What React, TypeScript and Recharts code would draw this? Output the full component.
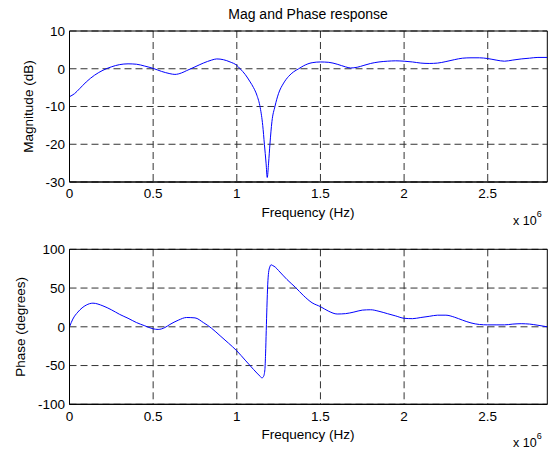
import React from 'react';
import { LineChart, Line, XAxis, YAxis, CartesianGrid, ReferenceArea, Label } from 'recharts';

// Frequency in units of 1e6 Hz
const magFreq = [0, 0.03, 0.06, 0.1, 0.15, 0.2, 0.25, 0.3, 0.35, 0.4, 0.45, 0.5, 0.55, 0.6, 0.63, 0.67, 0.7, 0.75, 0.8, 0.85, 0.88, 0.92, 0.96, 1.0, 1.02, 1.05, 1.08, 1.1, 1.12, 1.14, 1.155, 1.165, 1.175, 1.182, 1.19, 1.198, 1.21, 1.228, 1.25, 1.28, 1.31, 1.34, 1.37, 1.4, 1.45, 1.5, 1.55, 1.6, 1.65, 1.68, 1.72, 1.76, 1.8, 1.85, 1.9, 1.95, 2.0, 2.05, 2.1, 2.15, 2.2, 2.25, 2.3, 2.35, 2.4, 2.45, 2.5, 2.55, 2.6, 2.65, 2.7, 2.75, 2.8, 2.856];
const magDb = [-7.4, -6.6, -5.3, -3.5, -1.7, -0.4, 0.5, 1.1, 1.3, 1.2, 0.7, 0.1, -0.7, -1.3, -1.5, -1.1, -0.5, 0.5, 1.5, 2.3, 2.6, 2.4, 1.8, 0.9, 0.0, -1.5, -3.5, -5.0, -7.0, -10.3, -15, -20, -25, -28.8, -25, -20, -14, -10, -6.5, -3.8, -2.0, -0.8, 0.0, 0.8, 1.6, 1.8, 1.7, 1.2, 0.5, 0.2, 0.4, 0.9, 1.4, 1.8, 2.0, 2.1, 2.0, 1.8, 1.5, 1.4, 1.5, 1.9, 2.4, 2.8, 2.9, 2.9, 2.7, 2.3, 2.0, 2.3, 2.6, 2.8, 3.0, 3.0];

const phFreq = [0, 0.02, 0.05, 0.1, 0.14, 0.2, 0.25, 0.3, 0.35, 0.4, 0.45, 0.5, 0.53, 0.57, 0.6, 0.65, 0.7, 0.75, 0.8, 0.85, 0.9, 0.95, 1.0, 1.05, 1.1, 1.14, 1.15, 1.16, 1.168, 1.172, 1.176, 1.18, 1.185, 1.19, 1.197, 1.205, 1.215, 1.23, 1.25, 1.3, 1.35, 1.4, 1.45, 1.5, 1.55, 1.6, 1.65, 1.7, 1.75, 1.8, 1.85, 1.9, 1.95, 2.0, 2.05, 2.1, 2.15, 2.2, 2.25, 2.3, 2.35, 2.4, 2.45, 2.5, 2.55, 2.6, 2.65, 2.7, 2.75, 2.8, 2.856];
const phDeg = [0, 10, 19, 28, 30.5, 27, 22, 16, 11, 5.5, 1.3, -2.6, -3.4, -1, 3, 8.5, 12, 11.5, 5.5, -2, -11.5, -21, -31, -43, -55, -64, -66, -64, -55, -35, -5, 25, 55, 70, 77, 80, 79, 77, 72.5, 61, 51, 40, 31, 26, 20, 16.5, 17, 19, 21.5, 22, 20, 17, 14, 11, 10.5, 12, 13.5, 15, 15, 12.5, 8.5, 5, 3, 2.5, 2.5, 2.5, 3.5, 4, 3.5, 2, 0];

const xTicks = [0, 0.5, 1, 1.5, 2, 2.5];
const magTicks = [-30, -20, -10, 0, 10];
const phTicks = [-100, -50, 0, 50, 100];

const X_MAX = 2.856;
const FONT = 'Arial, "Liberation Sans", Helvetica, sans-serif';
const FS = 13.5;

const magData = magFreq.map((f, i) => ({ f, v: magDb[i] }));
const phData = phFreq.map((f, i) => ({ f, v: phDeg[i] }));

const tickStyle = { fill: '#000', fontSize: FS, fontFamily: FONT };

type PanelProps = {
  data: { f: number; v: number }[];
  yDomain: [number, number];
  yTicks: number[];
  yLabel: string;
  yLabelX: number;
  height: number;
  marginTop: number;
  marginBottom: number;
  title?: string;
};

function Panel({ data, yDomain, yTicks, yLabel, yLabelX, height, marginTop, marginBottom, title }: PanelProps) {
  const H = height;
  const plotBottom = H - marginBottom - 30;
  const plotTop = marginTop;
  const midY = (plotTop + plotBottom) / 2;
  return (
    <LineChart
      width={548}
      height={H}
      data={data}
      margin={{ top: marginTop, right: 0.7, left: 9.5, bottom: marginBottom }}
    >
      <CartesianGrid
        stroke="#333"
        strokeDasharray="7 4"
        horizontalValues={yTicks}
        verticalValues={xTicks}
      />
      <XAxis
        dataKey="f"
        type="number"
        domain={[0, X_MAX]}
        ticks={xTicks}
        allowDataOverflow
        height={30}
        tickSize={0}
        tickMargin={6.7}
        tickLine={false}
        axisLine={{ stroke: '#000' }}
        tick={tickStyle}
      >
        <Label
          content={() => (
            <g>
              <text x={308} y={plotBottom + 34.5} textAnchor="middle" fontSize={FS} fontFamily={FONT} fill="#000">
                Frequency (Hz)
              </text>
              <text x={513} y={plotBottom + 42.5} fontSize={12.5} fontFamily={FONT} fill="#000">
                x 10
                <tspan dy={-8} fontSize={9}>6</tspan>
              </text>
              {title ? (
                <text x={308} y={19} textAnchor="middle" fontSize={14} fontFamily={FONT} fill="#000">
                  {title}
                </text>
              ) : null}
            </g>
          )}
        />
      </XAxis>
      <YAxis
        type="number"
        domain={yDomain}
        ticks={yTicks}
        allowDataOverflow
        width={60}
        tickSize={0}
        tickMargin={4.5}
        tickLine={false}
        axisLine={{ stroke: '#000' }}
        tick={tickStyle}
      >
        <Label
          content={() => (
            <text
              x={yLabelX}
              y={midY}
              transform={`rotate(-90, ${yLabelX}, ${midY})`}
              textAnchor="middle"
              fontSize={FS}
              fontFamily={FONT}
              fill="#000"
            >
              {yLabel}
            </text>
          )}
        />
      </YAxis>
      <ReferenceArea
        x1={0}
        x2={X_MAX}
        y1={yDomain[0]}
        y2={yDomain[1]}
        fill="none"
        stroke="#000"
        strokeWidth={1}
        ifOverflow="visible"
      />
      <Line
        type="monotone"
        dataKey="v"
        stroke="#0000FF"
        strokeWidth={1}
        dot={false}
        isAnimationActive={false}
      />
    </LineChart>
  );
}

export default function App() {
  return (
    <div style={{ position: 'absolute', left: 0, top: 0, width: 548, height: 450, background: '#fff' }}>
      <div style={{ position: 'absolute', left: 0, top: 0 }}>
        <Panel
          data={magData}
          yDomain={[-30, 10]}
          yTicks={magTicks}
          yLabel="Magnitude (dB)"
          yLabelX={33}
          height={240}
          marginTop={31}
          marginBottom={28}
          title="Mag and Phase response"
        />
      </div>
      <div style={{ position: 'absolute', left: 0, top: 225 }}>
        <Panel
          data={phData}
          yDomain={[-100, 100]}
          yTicks={phTicks}
          yLabel="Phase (degrees)"
          yLabelX={25}
          height={225}
          marginTop={24.3}
          marginBottom={15.7}
        />
      </div>
    </div>
  );
}
